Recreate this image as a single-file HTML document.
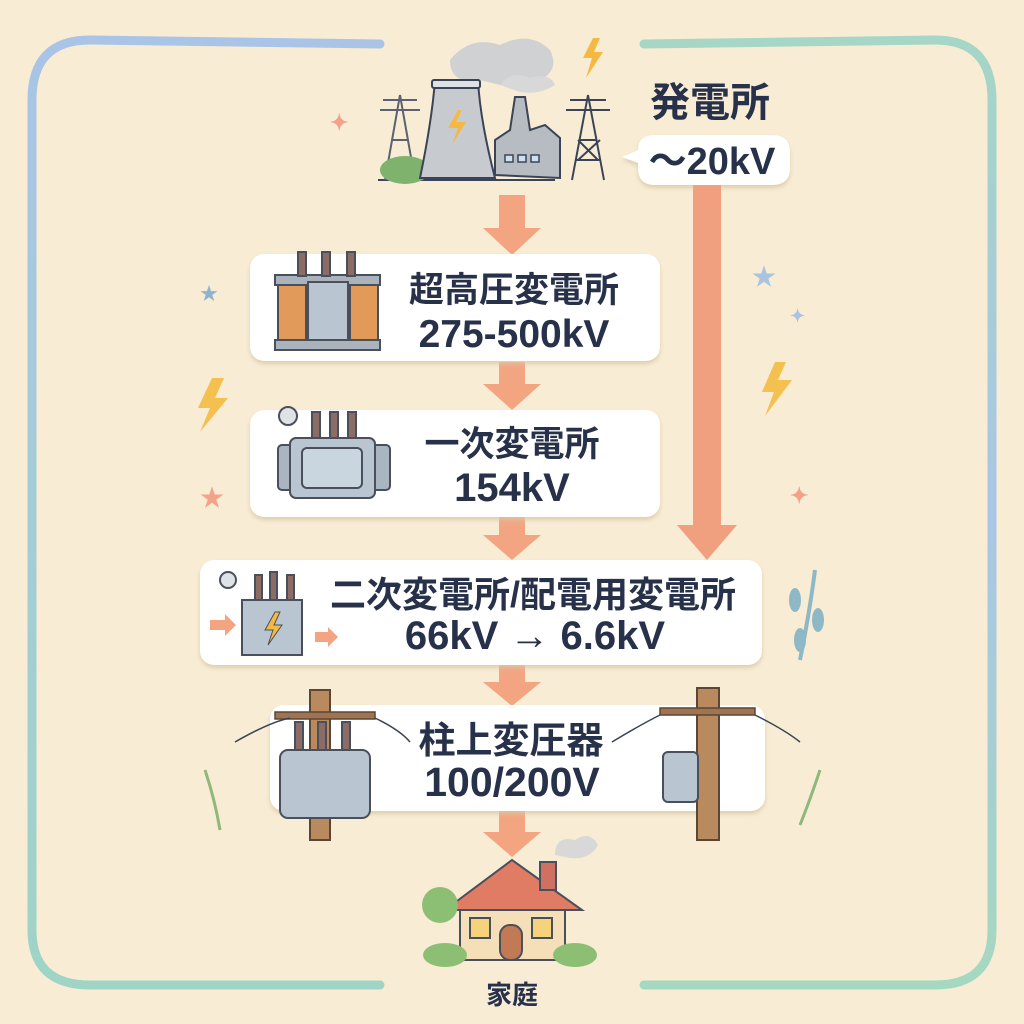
<!DOCTYPE html>
<html><head><meta charset="utf-8"><style>
html,body{margin:0;padding:0;background:#f8ecd4;}
svg{display:block}
text{font-family:"Liberation Sans","Noto Sans CJK JP",sans-serif;font-weight:bold;fill:#28314a}
</style></head><body>
<svg width="1024" height="1024" viewBox="0 0 1024 1024" xmlns="http://www.w3.org/2000/svg">
<defs>
<linearGradient id="fl" x1="0" y1="0" x2="0" y2="1"><stop offset="0" stop-color="#a9c4e6"/><stop offset="1" stop-color="#9fd4c7"/></linearGradient>
<linearGradient id="fr" x1="0" y1="0" x2="0" y2="1"><stop offset="0" stop-color="#a5d6c6"/><stop offset="0.5" stop-color="#a9c6e6"/><stop offset="1" stop-color="#a5d8c0"/></linearGradient>
<filter id="sh" x="-5%" y="-10%" width="110%" height="130%"><feDropShadow dx="0" dy="3" stdDeviation="2" flood-color="#d8c7a6" flood-opacity="0.8"/></filter>
</defs>
<rect width="1024" height="1024" fill="#f8ecd4"/>
<path d="M380 44 L90 40 Q32 40 32 100 L32 930 Q32 985 90 985 L380 985" fill="none" stroke="url(#fl)" stroke-width="9" stroke-linecap="round"/>
<path d="M644 44 L935 40 Q992 40 992 100 L992 930 Q992 985 935 985 L644 985" fill="none" stroke="url(#fr)" stroke-width="9" stroke-linecap="round"/>

<g>
<path d="M450 60 Q470 35 500 45 Q530 30 550 50 Q560 70 540 80 Q520 90 500 85 L480 80 Q450 85 450 60Z" fill="#cfd1d3"/>
<path d="M500 85 Q510 70 530 78 Q550 72 555 85 Q540 95 520 92Z" fill="#d8d8d8"/>
<line x1="378" y1="180" x2="555" y2="180" stroke="#3b4456" stroke-width="2"/>
<path d="M385 180 L400 95 L415 180 M392 140 L408 140 M388 160 L412 160 M380 110 L420 110 M383 100 L417 100" stroke="#5a6170" stroke-width="2" fill="none"/>
<path d="M572 180 L588 95 L604 180 M580 140 L596 140 M576 160 L600 160 M566 110 L610 110 M570 100 L606 100 M578 160 L600 140 M598 160 L578 140" stroke="#3b4456" stroke-width="2" fill="none"/>
<ellipse cx="405" cy="170" rx="25" ry="14" fill="#7fb36d"/>
<path d="M420 178 Q432 120 435 80 L478 80 Q480 120 495 178Z" fill="#c7cbd0" stroke="#3b4456" stroke-width="2"/>
<rect x="432" y="80" width="48" height="8" rx="2" fill="#dfe2e5" stroke="#3b4456" stroke-width="2"/>
<path d="M458 110 L448 128 L458 128 L452 145 L466 122 L456 122 L462 110Z" fill="#f4b942"/>
<path d="M495 175 L495 140 L510 130 L515 97 L525 97 L530 130 L545 125 L560 138 L560 178Z" fill="#b7bcc3" stroke="#3b4456" stroke-width="2"/>
<rect x="505" y="155" width="8" height="7" fill="#cfe0ef" stroke="#3b4456" stroke-width="1.5"/>
<rect x="518" y="155" width="8" height="7" fill="#cfe0ef" stroke="#3b4456" stroke-width="1.5"/>
<rect x="531" y="155" width="8" height="7" fill="#cfe0ef" stroke="#3b4456" stroke-width="1.5"/>
<path d="M593 38 L583 58 L592 58 L586 78 L603 52 L594 52 L600 38Z" fill="#f4b942"/>
</g>
<text x="710" y="116" font-size="40" text-anchor="middle">発電所</text>
<g filter="url(#sh)"><path d="M655 135 L772 135 Q790 135 790 152 L790 168 Q790 185 772 185 L655 185 Q638 185 638 168 L638 163 L622 157 L638 150 Q638 135 655 135Z" fill="#fff"/></g>
<text x="712" y="174" font-size="38" text-anchor="middle">～20kV</text>

<path d="M693 185 L721 185 L721 525 L737 525 L707 560 L677 525 L693 525Z" fill="#f0a07e"/>

<g fill="#f3a582">
<path d="M499 195 L525 195 L525 228 L541 228 L512 255 L483 228 L499 228Z"/>
<path d="M499 362 L525 362 L525 384 L541 384 L512 410 L483 384 L499 384Z"/>
<path d="M499 515 L525 515 L525 535 L541 535 L512 560 L483 535 L499 535Z"/>
<path d="M499 665 L525 665 L525 682 L541 682 L512 706 L483 682 L499 682Z"/>
<path d="M499 810 L525 810 L525 832 L541 832 L512 857 L483 832 L499 832Z"/>
</g>

<g filter="url(#sh)" fill="#fff">
<rect x="250" y="254" width="410" height="107" rx="14"/>
<rect x="250" y="410" width="410" height="107" rx="14"/>
<rect x="200" y="560" width="562" height="105" rx="14"/>
<rect x="270" y="705" width="495" height="106" rx="14"/>
</g>
<text x="514" y="302" font-size="35" text-anchor="middle">超高圧変電所</text>
<text x="514" y="347" font-size="39" text-anchor="middle">275-500kV</text>
<text x="512" y="456" font-size="35" text-anchor="middle">一次変電所</text>
<text x="512" y="501" font-size="40" text-anchor="middle">154kV</text>
<text x="533" y="607" font-size="36" text-anchor="middle">二次変電所/配電用変電所</text>
<text x="535" y="649" font-size="40" text-anchor="middle">66kV → 6.6kV</text>
<text x="511" y="753" font-size="37" text-anchor="middle">柱上変圧器</text>
<text x="512" y="796" font-size="41" text-anchor="middle">100/200V</text>

<g stroke="#4a4f5c" stroke-width="2">
<rect x="275" y="275" width="105" height="10" fill="#aab2bb"/>
<rect x="278" y="285" width="28" height="55" fill="#e29a5a"/>
<rect x="350" y="285" width="28" height="55" fill="#e29a5a"/>
<rect x="308" y="282" width="40" height="58" fill="#b9c6d1"/>
<rect x="275" y="340" width="105" height="10" fill="#aab2bb"/>
<rect x="298" y="252" width="8" height="24" fill="#8b6d65"/><rect x="322" y="252" width="8" height="24" fill="#8b6d65"/><rect x="347" y="252" width="8" height="24" fill="#8b6d65"/>
</g>
<g stroke="#4a4f5c" stroke-width="2">
<rect x="278" y="445" width="20" height="45" rx="4" fill="#a9b5c0"/>
<rect x="370" y="445" width="20" height="45" rx="4" fill="#a9b5c0"/>
<rect x="290" y="438" width="85" height="60" rx="6" fill="#b9c6d1"/>
<rect x="302" y="448" width="60" height="40" rx="5" fill="#c9d5df"/>
<circle cx="288" cy="416" r="9" fill="#dfe3e6"/>
<rect x="312" y="412" width="8" height="26" fill="#8b6d65"/><rect x="330" y="412" width="8" height="26" fill="#8b6d65"/><rect x="348" y="412" width="8" height="26" fill="#8b6d65"/>
</g>
<g stroke="#4a4f5c" stroke-width="2">
<rect x="242" y="600" width="60" height="55" fill="#b9c6d1"/>
<path d="M275 612 L265 630 L273 630 L268 645 L282 625 L274 625 L280 612Z" fill="#f4b942" stroke-width="1"/>
<circle cx="228" cy="580" r="8" fill="#dfe3e6"/>
<rect x="255" y="575" width="7" height="25" fill="#8b6d65"/><rect x="270" y="572" width="7" height="28" fill="#8b6d65"/><rect x="287" y="575" width="7" height="25" fill="#8b6d65"/>
</g>
<path d="M210 620 L225 620 L225 614 L236 625 L225 636 L225 630 L210 630Z" fill="#f3a582"/>
<path d="M315 632 L328 632 L328 627 L338 637 L328 647 L328 642 L315 642Z" fill="#f3a582"/>
<rect x="310" y="690" width="20" height="150" fill="#b88a5e" stroke="#5b4636" stroke-width="2"/>
<rect x="275" y="712" width="100" height="7" fill="#a07450" stroke="#5b4636" stroke-width="1.5"/>
<path d="M235 742 Q270 722 290 718 M375 718 Q400 730 410 742" stroke="#3b4456" stroke-width="1.5" fill="none"/>
<g stroke="#4a4f5c" stroke-width="2">
<rect x="280" y="750" width="90" height="68" rx="8" fill="#b9c6d1"/>
<rect x="295" y="722" width="8" height="28" fill="#8b6d65"/><rect x="318" y="722" width="8" height="28" fill="#8b6d65"/><rect x="342" y="722" width="8" height="28" fill="#8b6d65"/>
</g>
<rect x="697" y="688" width="22" height="152" fill="#b88a5e" stroke="#5b4636" stroke-width="2"/>
<rect x="660" y="708" width="95" height="7" fill="#a07450" stroke="#5b4636" stroke-width="1.5"/>
<path d="M612 742 Q640 725 660 715 M755 715 Q785 730 800 742" stroke="#3b4456" stroke-width="1.5" fill="none"/>
<rect x="663" y="752" width="35" height="50" rx="5" fill="#b9c6d1" stroke="#4a4f5c" stroke-width="2"/>

<g stroke="#4a4f5c" stroke-width="2">
<rect x="460" y="905" width="105" height="55" fill="#f4dfb8"/>
<path d="M445 910 L512 860 L582 910Z" fill="#e07b64"/>
<rect x="540" y="862" width="16" height="28" fill="#d07060"/>
<rect x="470" y="918" width="20" height="20" fill="#f6d27a"/>
<rect x="500" y="925" width="22" height="35" rx="10" fill="#c27a55"/>
<rect x="532" y="918" width="20" height="20" fill="#f6d27a"/>
</g>
<circle cx="440" cy="905" r="18" fill="#8cbf73"/>
<ellipse cx="575" cy="955" rx="22" ry="12" fill="#8cbf73"/>
<ellipse cx="445" cy="955" rx="22" ry="12" fill="#8cbf73"/>
<path d="M555 855 Q555 835 575 840 Q590 830 598 845 Q590 860 570 858Z" fill="#d8d8d8"/>
<text x="512" y="1004" font-size="26" text-anchor="middle">家庭</text>

<path d="M212 378 L198 408 L210 408 L200 432 L228 398 L215 398 L224 378Z" fill="#f4c04f"/>
<path d="M775 362 L762 392 L774 392 L765 416 L792 380 L778 380 L786 362Z" fill="#f4c04f"/>
<text x="200" y="300" font-size="18" style="fill:#8fb3cf">★</text>
<text x="752" y="285" font-size="24" style="fill:#a9c4de">★</text>
<text x="200" y="506" font-size="24" style="fill:#f0a58a">★</text>
<text x="330" y="130" font-size="22" style="fill:#f2a18a">✦</text>
<text x="790" y="503" font-size="22" style="fill:#f2a18a">✦</text>
<text x="790" y="322" font-size="18" style="fill:#a9c4de">✦</text>
<path d="M800 660 Q810 610 815 570" stroke="#8fb8c6" stroke-width="4" fill="none"/>
<ellipse cx="795" cy="600" rx="6" ry="12" fill="#8fb8c6"/><ellipse cx="818" cy="620" rx="6" ry="12" fill="#8fb8c6"/><ellipse cx="800" cy="640" rx="6" ry="12" fill="#8fb8c6"/>
<path d="M800 825 Q810 800 820 770" stroke="#8fb87a" stroke-width="3" fill="none"/>
<path d="M220 830 Q215 800 205 770" stroke="#8fb87a" stroke-width="3" fill="none"/>
</svg>
</body></html>
